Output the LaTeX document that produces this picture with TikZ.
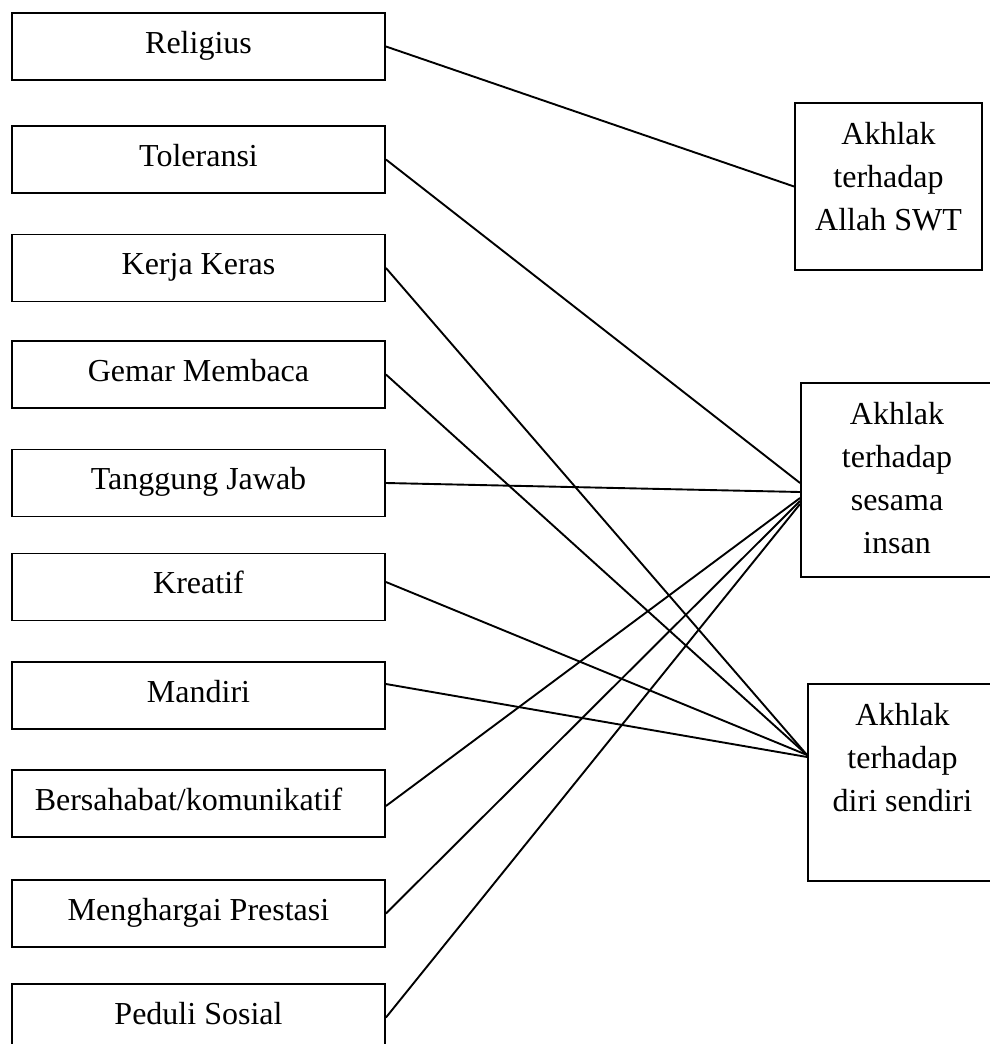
\documentclass[tikz,border=0pt]{standalone}
\usepackage{fontspec}
\setmainfont{Liberation Serif}
\usetikzlibrary{positioning, calc}

\begin{document}
\begin{tikzpicture}[x=1pt, y=-1pt, line width=1.9pt,
  nilai/.style={draw, rectangle, minimum width=373pt, minimum height=67pt, inner sep=0pt, font=\fontsize{32}{42}\selectfont, text height=21pt, text depth=8pt},
  akhlak/.style={draw, rectangle, inner sep=0pt},
  tulisan/.style={align=center, inner sep=0pt, anchor=north, font=\fontsize{32}{43}\selectfont}]
\useasboundingbox (0,0) rectangle (990,1044);

% Draw the character values on the left
\node[nilai] (religius) at (198.5,46.5) {Religius};
\node[nilai] (toleransi) at (198.5,159.5) {Toleransi};
\node[nilai] (kerja) at (198.5,268) {Kerja Keras};
\node[nilai] (gemar) at (198.5,374.5) {Gemar Membaca};
\node[nilai] (tanggung) at (198.5,483) {Tanggung Jawab};
\node[nilai] (kreatif) at (198.5,587) {Kreatif};
\node[nilai] (mandiri) at (198.5,695.5) {Mandiri};
\node[nilai] (bersahabat) at (198.5,803.5) {Bersahabat/komunikatif\hspace*{20pt}};
\node[nilai] (menghargai) at (198.5,913.5) {Menghargai Prestasi};
\node[nilai] (peduli) at (198.5,1017.5) {Peduli Sosial};

% Draw the three akhlak boxes on the right
\node[akhlak, minimum width=187pt, minimum height=167pt] (allah) at (888.5,186.5) {};
\node[tulisan, below=19pt of allah.north] (tallah) {Akhlak\\terhadap\\Allah SWT};
\node[akhlak, minimum width=192pt, minimum height=194pt] (sesama) at (897,480) {};
\node[tulisan, below=19pt of sesama.north] (tsesama) {Akhlak\\terhadap\\sesama\\insan};
\node[akhlak, minimum width=189pt, minimum height=197pt] (diri) at (902.5,782.5) {};
\node[tulisan, below=19pt of diri.north] (tdiri) {Akhlak\\terhadap\\diri sendiri};

% Points where the lines meet the boxes
\coordinate (sesamaA) at ($(sesama.west)+(0,3)$);
\coordinate (sesamaB) at ($(sesama.west)+(0,12)$);
\coordinate (sesamaC) at ($(sesama.west)+(0,18)$);
\coordinate (sesamaD) at ($(sesama.west)+(0,21)$);
\coordinate (sesamaE) at ($(sesama.west)+(0,24)$);
\coordinate (diriA) at ($(diri.west)+(0,-27.5)$);
\coordinate (diriB) at ($(diri.west)+(0,-25.5)$);

% Draw the connections
\draw (religius.east) -- (allah.west);
\draw (toleransi.east) -- (sesamaA);
\draw (kerja.east) -- (diriA);
\draw (gemar.east) -- (diriA);
\draw (tanggung.east) -- (sesamaB);
\draw ($(kreatif.east)+(0,-5)$) -- (diriA);
\draw ($(mandiri.east)+(0,-11.5)$) -- (diriB);
\draw ($(bersahabat.east)+(0,2.5)$) -- (sesamaC);
\draw (menghargai.east) -- (sesamaD);
\draw (peduli.east) -- (sesamaE);
\end{tikzpicture}
\end{document}
